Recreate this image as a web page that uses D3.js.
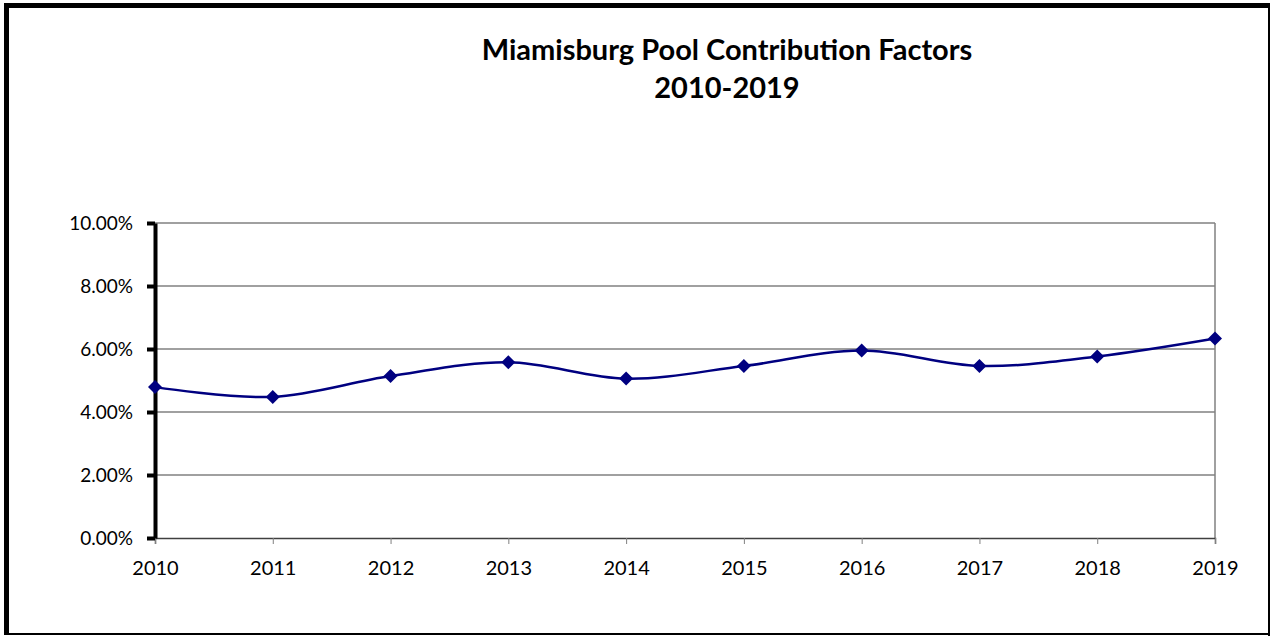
<!DOCTYPE html>
<html>
<head>
<meta charset="utf-8">
<script src="https://cdn.jsdelivr.net/npm/d3@7"></script>
<style>
  body { margin: 0; background: #fff; }
  svg { display: block; }
</style>
</head>
<body>
<svg id="svg"></svg>
<script>
// chart data
const years = [2010, 2011, 2012, 2013, 2014, 2015, 2016, 2017, 2018, 2019];
const factors = [0.0479, 0.0448, 0.0514, 0.0558, 0.0506, 0.0546, 0.0595, 0.0546, 0.0576, 0.0633];
const yTicks = [0, 0.02, 0.04, 0.06, 0.08, 0.10];
const titleLines = ["Miamisburg Pool Contribution Factors", "2010-2019"];

const W = 1273, H = 637;
const margin = {top: 223, right: 58, bottom: 99, left: 155},
  width = W - margin.left - margin.right,
  height = H - margin.top - margin.bottom;

const root = d3.select("#svg")
  .attr("width", W)
  .attr("height", H);

// outer frame (thick top/left, thin bottom/right)
root.append("rect").attr("x", 4).attr("y", 3).attr("width", 5).attr("height", 632).attr("fill", "#000");
root.append("rect").attr("x", 4).attr("y", 3).attr("width", 1266).attr("height", 5).attr("fill", "#000");
root.append("rect").attr("x", 1268).attr("y", 3).attr("width", 2).attr("height", 633).attr("fill", "#000");
root.append("rect").attr("x", 4).attr("y", 633).attr("width", 1266).attr("height", 2).attr("fill", "#000");

// title
root.append("g")
  .selectAll("text")
  .data(titleLines)
  .enter()
  .append("text")
  .attr("x", 727)
  .attr("y", (d, i) => 60 + i * 38)
  .attr("text-anchor", "middle")
  .style("font-family", "Lato, 'Open Sans', sans-serif")
  .style("font-weight", "bold")
  .style("font-size", "29px")
  .text(d => d);

const svg = root.append("g")
  .attr("transform", `translate(${margin.left},${margin.top})`);

const x = d3.scaleLinear()
  .domain(d3.extent(years))
  .range([0, width]);

const y = d3.scaleLinear()
  .domain([0, 0.10])
  .range([height, 0]);

// gridlines
svg.append("g")
  .selectAll("line")
  .data(yTicks.filter(d => d > 0))
  .enter()
  .append("line")
  .attr("x1", 0)
  .attr("x2", width)
  .attr("y1", d => y(d))
  .attr("y2", d => y(d))
  .attr("stroke", "#808080")
  .attr("stroke-width", 1.5);

// right edge of plot area
svg.append("line")
  .attr("x1", width).attr("x2", width)
  .attr("y1", 0).attr("y2", height)
  .attr("stroke", "#808080")
  .attr("stroke-width", 1.5);

// X axis
const xAxis = svg.append("g")
  .attr("transform", `translate(0, ${height})`)
  .call(d3.axisBottom(x).tickValues(years).tickFormat(d3.format("d")).tickSize(6).tickPadding(17));
xAxis.select(".domain").attr("stroke", "#404040").attr("stroke-width", 1.5);
xAxis.selectAll(".tick line").attr("stroke", "#808080").attr("stroke-width", 1);
xAxis.selectAll("text")
  .style("font-family", "Lato, 'Open Sans', sans-serif")
  .style("font-size", "20px")
  .attr("fill", "#000");

// Y axis
const yAxis = svg.append("g")
  .call(d3.axisLeft(y).tickValues(yTicks).tickFormat(d3.format(".2%")).tickSize(8).tickSizeOuter(0).tickPadding(14));
yAxis.select(".domain").attr("stroke", "#000").attr("stroke-width", 4);
yAxis.selectAll(".tick line").attr("stroke", "#000").attr("stroke-width", 4);
yAxis.selectAll("text")
  .style("font-family", "Lato, 'Open Sans', sans-serif")
  .style("font-size", "19px")
  .attr("fill", "#000");

// smoothed line
svg.append("path")
  .datum(years.map((yr, i) => ({year: yr, value: factors[i]})))
  .attr("d", d3.line()
    .x(d => x(d.year))
    .y(d => y(d.value))
    .curve(d3.curveCardinal.tension(0)))
  .attr("fill", "none")
  .attr("stroke", "#000080")
  .attr("stroke-width", 2.5);

// diamond markers
svg.selectAll(".marker")
  .data(years.map((yr, i) => ({year: yr, value: factors[i]})))
  .enter()
  .append("path")
  .attr("class", "marker")
  .attr("transform", d => `translate(${x(d.year)},${y(d.value)})`)
  .attr("d", "M0,-7L7,0L0,7L-7,0Z")
  .attr("fill", "#000080");
</script>
</body>
</html>
